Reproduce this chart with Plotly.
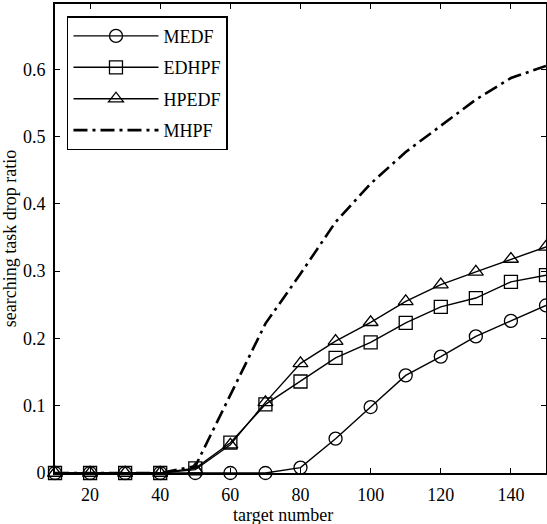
import plotly.graph_objects as go

target_number = [10, 20, 30, 40, 50, 60, 70, 80, 90, 100, 110, 120, 130, 140, 150]
medf = [0, 0, 0, 0, 0, 0, 0, 0.008, 0.051, 0.098, 0.145, 0.173, 0.203, 0.226, 0.249]
edhpf = [0, 0, 0, 0, 0.007, 0.045, 0.102, 0.136, 0.171, 0.194, 0.223, 0.247, 0.26, 0.284, 0.294]
hpedf = [0, 0, 0, 0, 0.005, 0.042, 0.105, 0.163, 0.196, 0.224, 0.255, 0.28, 0.299, 0.318, 0.336]
mhpf = [0, 0, 0, 0, 0.01, 0.117, 0.222, 0.296, 0.373, 0.43, 0.477, 0.516, 0.555, 0.587, 0.605]
x_ticks = [20, 40, 60, 80, 100, 120, 140]
y_ticks = [0, 0.1, 0.2, 0.3, 0.4, 0.5, 0.6]
y_tick_text = ["0", "0.1", "0.2", "0.3", "0.4", "0.5", "0.6"]

FONT = "Liberation Serif"

fig = go.Figure()
marker_common = dict(color="black", size=13, line=dict(color="black", width=1.3))
fig.add_trace(go.Scatter(x=target_number, y=medf, name="MEDF", mode="lines+markers", legendgroup="a",
                         cliponaxis=False, line=dict(color="black", width=1.4),
                         marker=dict(symbol="circle-open", **marker_common)))
fig.add_trace(go.Scatter(x=target_number, y=edhpf, name="EDHPF", mode="lines+markers", legendgroup="b",
                         cliponaxis=False, line=dict(color="black", width=1.4),
                         marker=dict(symbol="square-open", **marker_common)))
fig.add_trace(go.Scatter(x=target_number, y=hpedf, name="HPEDF", mode="lines+markers", legendgroup="c",
                         cliponaxis=False, line=dict(color="black", width=1.4),
                         marker=dict(symbol="triangle-up-open", **marker_common)))
fig.add_trace(go.Scatter(x=target_number, y=mhpf, name="MHPF", mode="lines", legendgroup="d",
                         line=dict(color="black", width=2.6, dash="14px,5px,3px,5px")))

axis_common = dict(showline=True, linecolor="black", linewidth=2, mirror="ticks",
                   ticks="inside", ticklen=5, tickwidth=1.2, tickcolor="black",
                   showgrid=False, zeroline=False, automargin=False,
                   tickfont=dict(family=FONT, size=18, color="black"))

fig.update_layout(
    width=547, height=524,
    margin=dict(l=55, r=1, t=4, b=51),
    paper_bgcolor="white", plot_bgcolor="white",
    font=dict(family=FONT, size=18, color="black"),
    xaxis=dict(range=[10, 150], tickvals=x_ticks, ticklabelstandoff=4, **axis_common),
    yaxis=dict(range=[0, 0.697], tickvals=y_ticks, ticktext=y_tick_text, ticklabelstandoff=4,
               title=dict(text="searching task drop ratio", font=dict(family=FONT, size=18), standoff=6),
               **axis_common),
    legend=dict(x=0.0244, y=0.974, xanchor="left", yanchor="top",
                bgcolor="white", bordercolor="black", borderwidth=1.5,
                font=dict(family=FONT, size=18, color="black"),
                itemwidth=85, tracegroupgap=5),
    showlegend=True,
    annotations=[dict(text="target number", xref="paper", yref="paper", x=0.464, y=0,
                      yshift=-30, xanchor="center", yanchor="top", showarrow=False,
                      font=dict(family=FONT, size=18, color="black"))],
)

fig.write_html("out.html", config={"displayModeBar": False},
               post_script="document.body.style.margin='0px';")
